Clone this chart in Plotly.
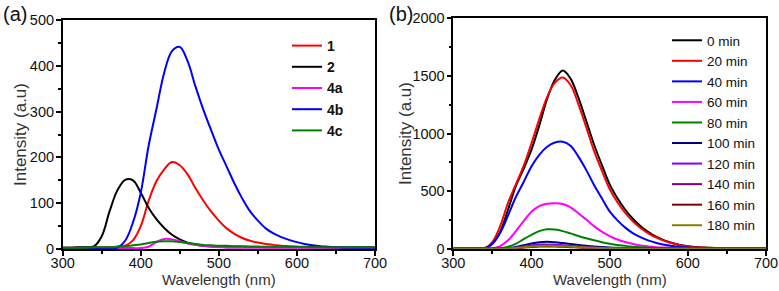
import plotly.graph_objects as go

# ---------------- data ----------------
wavelength = list(range(300, 701, 10))

# panel (a)
a_names = ["1", "2", "4a", "4b", "4c"]
a_colors = ["#ff0000", "#000000", "#ff00ff", "#0000ff", "#008000"]
a_1 = [3, 3, 3, 3, 4, 4, 4, 5, 7, 19, 50, 105, 148, 174, 190, 183, 163, 133, 106, 82, 62,
       45, 33, 24, 18, 14, 11, 9, 7, 6, 5, 4, 4, 4, 3, 3, 3, 3, 3, 3, 3]
a_2 = [3, 3, 4, 4, 6, 28, 82, 128, 151, 150, 123, 90, 65, 46, 31, 21, 14, 10, 7, 6, 5,
       5, 5, 5, 5, 5, 4, 4, 4, 4, 4, 4, 4, 4, 4, 4, 4, 4, 4, 4, 4]
a_4a = [2, 2, 2, 2, 2, 2, 2, 2, 2, 2, 2, 5, 15, 22, 21, 17, 12, 9, 7, 5, 4,
        3, 3, 3, 3, 3, 3, 3, 3, 3, 3, 3, 3, 3, 3, 3, 3, 3, 3, 3, 3]
a_4b = [2, 2, 2, 2, 2, 2, 2, 3, 18, 58, 123, 225, 305, 385, 432, 441, 410, 355, 305, 260, 217,
        180, 143, 110, 82, 62, 45, 34, 26, 20, 15, 11, 8, 6, 5, 4, 3, 3, 3, 3, 3]
a_4c = [3, 3, 3, 3, 4, 4, 4, 5, 6, 8, 10, 13, 16, 17, 17, 15, 13, 11, 9, 8, 7,
        7, 6, 6, 5, 5, 5, 5, 5, 5, 5, 5, 4, 4, 4, 4, 4, 4, 4, 4, 4]
a_series = [a_1, a_2, a_4a, a_4b, a_4c]

# panel (b)
b_names = ["0 min", "20 min", "40 min", "60 min", "80 min", "100 min",
           "120 min", "140 min", "160 min", "180 min"]
b_colors = ["#000000", "#ff0000", "#0000ff", "#ff00ff", "#008000", "#000080",
            "#8000ff", "#800080", "#800000", "#808000"]
b_0 = [5, 5, 5, 5, 6, 45, 150, 340, 545, 695, 860, 1070, 1300, 1465, 1545, 1475, 1310, 1110, 905, 728, 560,
       440, 340, 260, 195, 145, 105, 75, 52, 35, 24, 17, 13, 10, 8, 7, 6, 6, 5, 5, 5]
b_20 = [5, 5, 5, 5, 8, 60, 200, 400, 560, 720, 915, 1125, 1315, 1440, 1485, 1420, 1255, 1055, 850, 680, 520,
        405, 312, 238, 180, 134, 98, 70, 49, 33, 23, 16, 12, 9, 7, 6, 6, 5, 5, 5, 5]
b_40 = [3, 3, 3, 3, 4, 45, 140, 290, 450, 580, 715, 815, 885, 922, 928, 893, 800, 685, 555, 440, 325,
        248, 185, 135, 100, 72, 52, 37, 26, 18, 13, 10, 8, 6, 5, 4, 4, 4, 4, 4, 4]
b_60 = [3, 3, 3, 3, 3, 5, 25, 75, 155, 242, 323, 372, 392, 397, 390, 360, 310, 255, 198, 150, 112,
        82, 60, 43, 31, 22, 16, 12, 9, 7, 6, 5, 5, 4, 4, 4, 4, 4, 4, 4, 4]
b_80 = [3, 3, 3, 3, 3, 3, 6, 20, 45, 85, 122, 155, 170, 168, 155, 135, 113, 93, 75, 59, 46,
        35, 27, 20, 15, 11, 9, 7, 5, 4, 3, 3, 3, 3, 3, 3, 3, 3, 3, 3, 3]
b_100 = [2, 2, 2, 2, 2, 2, 3, 8, 18, 33, 48, 58, 62, 58, 51, 43, 35, 28, 22, 17, 13,
         10, 8, 6, 5, 4, 3, 3, 3, 3, 3, 3, 3, 3, 3, 3, 3, 3, 3, 3, 3]
b_120 = [2, 2, 2, 2, 2, 2, 2, 5, 11, 21, 31, 38, 40, 37, 32, 27, 22, 17, 13, 10, 8,
         6, 5, 4, 3, 3, 3, 3, 3, 3, 3, 3, 3, 3, 3, 3, 3, 3, 3, 3, 3]
b_140 = [2, 2, 2, 2, 2, 2, 2, 4, 9, 16, 23, 28, 30, 28, 25, 21, 17, 13, 10, 8, 6,
         5, 4, 3, 3, 3, 3, 3, 3, 3, 3, 3, 3, 3, 3, 3, 3, 3, 3, 3, 3]
b_160 = [2, 2, 2, 2, 2, 2, 2, 3, 7, 12, 17, 21, 22, 21, 19, 16, 13, 10, 8, 6, 5,
         4, 3, 3, 3, 3, 3, 3, 3, 3, 3, 3, 3, 3, 3, 3, 3, 3, 3, 3, 3]
b_180 = [2, 2, 2, 2, 2, 2, 3, 5, 9, 15, 21, 26, 28, 27, 24, 20, 16, 13, 10, 8, 6,
         5, 4, 3, 3, 3, 3, 3, 3, 3, 3, 3, 3, 3, 3, 3, 3, 3, 3, 3, 3]
b_series = [b_0, b_20, b_40, b_60, b_80, b_100, b_120, b_140, b_160, b_180]

x_title = "Wavelength (nm)"
y_title = "Intensity (a.u)"

# ---------------- figure ----------------
FONT = "Liberation Sans, Arial, sans-serif"
fig = go.Figure()

for name, col, ys in zip(a_names, a_colors, a_series):
    fig.add_trace(go.Scatter(x=wavelength, y=ys, name=name, mode="lines",
                             line=dict(color=col, width=2, shape="spline"),
                             xaxis="x", yaxis="y", legend="legend"))

for name, col, ys in zip(b_names, b_colors, b_series):
    fig.add_trace(go.Scatter(x=wavelength, y=ys, name=name, mode="lines",
                             line=dict(color=col, width=2, shape="spline"),
                             xaxis="x2", yaxis="y2", legend="legend2"))

W, H = 779, 291


def px_x(p):
    return p / W


def px_y(p):
    return (H - p) / H


axis_common = dict(showline=True, linecolor="black", linewidth=1.5, mirror=True,
                   ticks="outside", ticklen=5, tickwidth=1.5, tickcolor="black",
                   showgrid=False, zeroline=False, automargin=False,
                   tickfont=dict(family=FONT, size=14.5, color="#111"))
minor_common = dict(ticklen=3, ticks="outside", tickwidth=1.5, tickcolor="black")

fig.update_layout(
    width=W, height=H,
    margin=dict(l=0, r=0, t=0, b=0),
    paper_bgcolor="white", plot_bgcolor="white",
    font=dict(family=FONT),
    xaxis=dict(domain=[px_x(62.7), px_x(375)], range=[300, 700], dtick=100, anchor="y",
               minor=dict(dtick=50, **minor_common), ticklabelstandoff=-5, **axis_common),
    yaxis=dict(domain=[px_y(249), px_y(20)], range=[0, 500], dtick=100, anchor="x",
               minor=dict(dtick=50, **minor_common), ticklabelstandoff=-1, **axis_common),
    xaxis2=dict(domain=[px_x(453.3), px_x(766)], range=[300, 700], dtick=100, anchor="y2",
                minor=dict(dtick=50, **minor_common), ticklabelstandoff=-5, **axis_common),
    yaxis2=dict(domain=[px_y(249), px_y(18)], range=[0, 2000], dtick=500, anchor="x2",
                minor=dict(dtick=250, **minor_common), ticklabelstandoff=-1, **axis_common),
    legend=dict(x=px_x(287), y=px_y(30), xanchor="left", yanchor="top",
                bgcolor="rgba(0,0,0,0)", borderwidth=0, tracegroupgap=0,
                font=dict(family=FONT, size=14, color="#111", weight="bold")),
    legend2=dict(x=px_x(667), y=px_y(25), xanchor="left", yanchor="top",
                 bgcolor="rgba(0,0,0,0)", borderwidth=0, tracegroupgap=0,
                 font=dict(family=FONT, size=13.5, color="#111")),
    annotations=[
        dict(text="(a)", x=px_x(1), y=px_y(14), xref="paper", yref="paper",
             xanchor="left", yanchor="middle", showarrow=False,
             font=dict(family=FONT, size=20, color="#111")),
        dict(text="(b)", x=px_x(387), y=px_y(14), xref="paper", yref="paper",
             xanchor="left", yanchor="middle", showarrow=False,
             font=dict(family=FONT, size=20, color="#111")),
        dict(text=x_title, x=px_x(218.8), y=px_y(279.5), xref="paper", yref="paper",
             xanchor="center", yanchor="middle", showarrow=False,
             font=dict(family=FONT, size=15, color="#333")),
        dict(text=x_title, x=px_x(609.6), y=px_y(279.5), xref="paper", yref="paper",
             xanchor="center", yanchor="middle", showarrow=False,
             font=dict(family=FONT, size=15, color="#333")),
        dict(text=y_title, x=px_x(20), y=px_y(135), xref="paper", yref="paper",
             xanchor="center", yanchor="middle", showarrow=False, textangle=-90,
             font=dict(family=FONT, size=17, color="#333")),
        dict(text=y_title, x=px_x(405), y=px_y(134), xref="paper", yref="paper",
             xanchor="center", yanchor="middle", showarrow=False, textangle=-90,
             font=dict(family=FONT, size=17, color="#333")),
    ],
)

fig.write_html("out.html", config={"displayModeBar": False},
               post_script="document.body.style.margin='0';")
